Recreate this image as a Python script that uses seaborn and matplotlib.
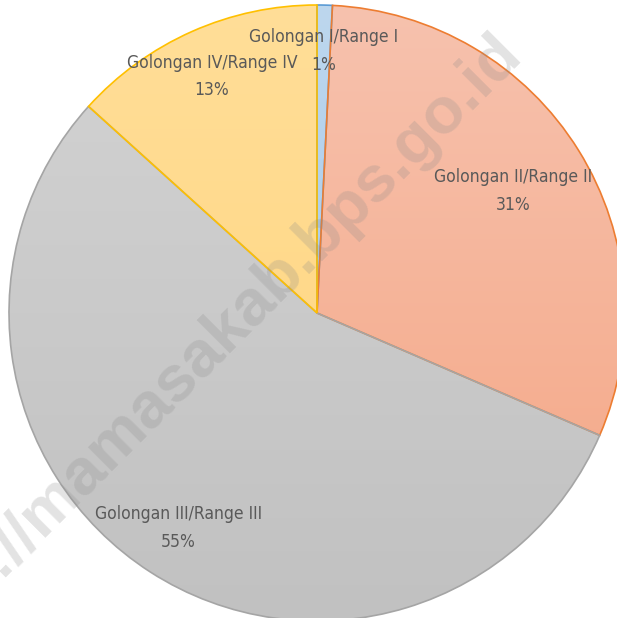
import numpy as np
import seaborn as sns
import matplotlib.pyplot as plt
from matplotlib.colors import LinearSegmentedColormap

# share of civil servants by rank group (percent)
groups = ["Golongan I/Range I", "Golongan II/Range II",
          "Golongan III/Range III", "Golongan IV/Range IV"]
shares = [0.8, 30.7, 55.2, 13.3]

# slice styling: gradient top/bottom and edge colour
fill_top = ["#BDD7EE", "#F7C2AE", "#D3D3D3", "#FFDE98"]
fill_bottom = ["#9DC3E6", "#F4A583", "#C1C1C1", "#FFD47C"]
edges = ["#5B9BD5", "#ED7D31", "#A5A5A5", "#FFC000"]
label_dist = [0.85, 0.75, 0.83, 0.84]

sns.set_theme(style="white")
plt.rcParams["font.family"] = ["DejaVu Sans"]

fig = plt.figure(figsize=(6.17, 6.18), dpi=100)
ax = fig.add_axes([0, 0, 1, 1])

wedges, _ = ax.pie(shares, startangle=90, counterclock=False, radius=1,
                   colors=fill_top,
                   wedgeprops=dict(edgecolor="none", linewidth=1.2))

grad = np.linspace(0, 1, 256).reshape(-1, 1)
for w, top, bot, ec in zip(wedges, fill_top, fill_bottom, edges):
    cmap = LinearSegmentedColormap.from_list("g", [top, bot])
    im = ax.imshow(grad, extent=[-1, 1, -1, 1], origin="upper", cmap=cmap,
                   aspect="auto", zorder=0.5)
    im.set_clip_path(w)
    w.set_facecolor("none")
    w.set_edgecolor(ec)
    w.set_zorder(2)

total = sum(shares)
for w, name, val, d in zip(wedges, groups, shares, label_dist):
    ang = np.deg2rad((w.theta1 + w.theta2) / 2)
    ax.text(d * np.cos(ang), d * np.sin(ang),
            f"{name}\n{round(val / total * 100):.0f}%",
            ha="center", va="center", fontsize=12.5, fontstretch="condensed",
            color="#595959", linespacing=1.7, zorder=3)

ax.set_xlim(-317 / 308, 300 / 308)
ax.set_ylim(-305 / 308, 313 / 308)
ax.set_aspect("auto")
ax.axis("off")

fig.text(0.335, 0.437, "http://mamasakab.bps.go.id", fontsize=47,
         fontweight="bold", family=["Liberation Sans", "DejaVu Sans"],
         color="#8a8a8a", alpha=0.24, rotation=45, rotation_mode="anchor",
         ha="center", va="center", zorder=5)

fig.savefig("out.png", dpi=100)
